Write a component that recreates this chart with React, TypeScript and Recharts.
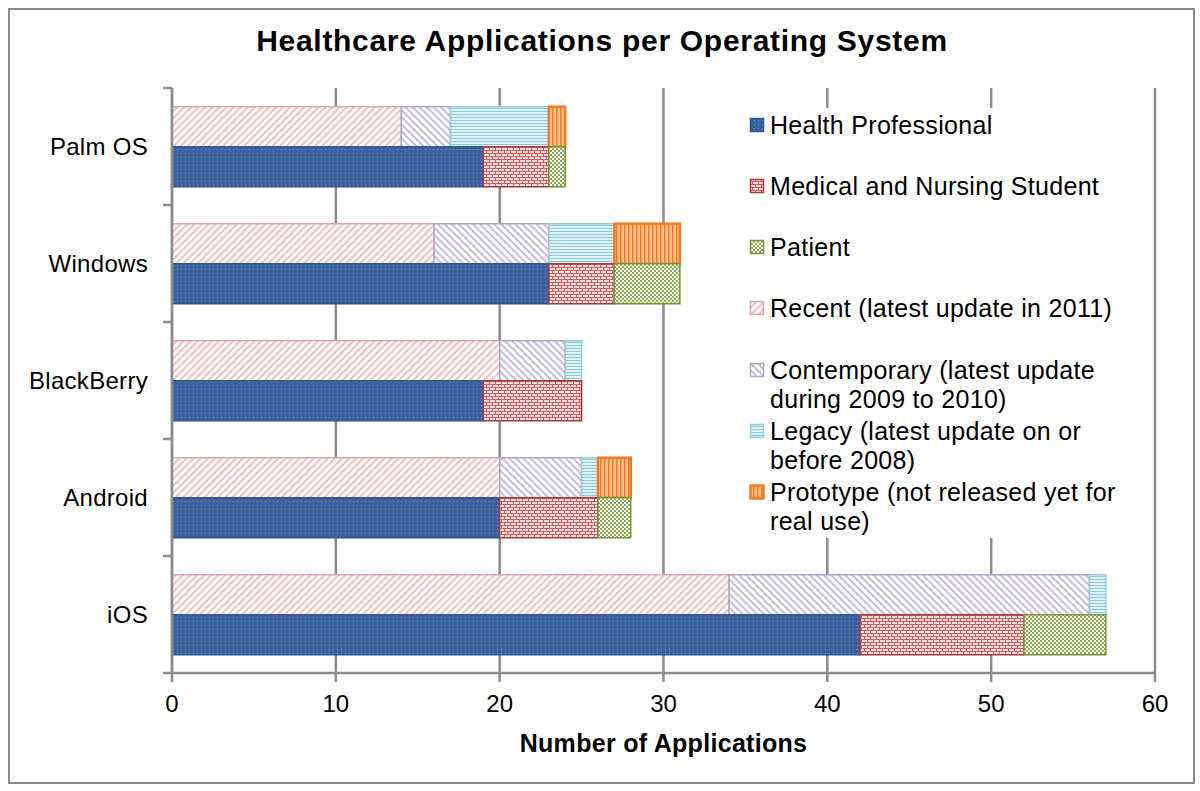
import React from 'react';
import { BarChart, Bar, XAxis, YAxis, CartesianGrid, Legend } from 'recharts';

// ---- data ----
const categories = ['Palm OS', 'Windows', 'BlackBerry', 'Android', 'iOS'];
const healthProfessional = [19, 23, 19, 20, 42];
const medicalStudent = [4, 4, 6, 6, 10];
const patient = [1, 4, 0, 2, 5];
const recent = [14, 16, 20, 20, 34];
const contemporary = [3, 7, 4, 5, 22];
const legacy = [6, 4, 1, 1, 1];
const prototype = [1, 4, 0, 2, 0];
const xTicks = [0, 10, 20, 30, 40, 50, 60];

const legendLabels = [
  'Health Professional',
  'Medical and Nursing Student',
  'Patient',
  'Recent (latest update in 2011)',
  'Contemporary (latest update during 2009 to 2010)',
  'Legacy (latest update on or before 2008)',
  'Prototype (not released yet for real use)',
];
const legendLines: string[][] = [
  ['Health Professional'],
  ['Medical and Nursing Student'],
  ['Patient'],
  ['Recent (latest update in 2011)'],
  ['Contemporary (latest update', 'during 2009 to 2010)'],
  ['Legacy (latest update on or', 'before 2008)'],
  ['Prototype (not released yet for', 'real use)'],
];

const data = categories.map((name, i) => ({
  name,
  hp: healthProfessional[i],
  mns: medicalStudent[i],
  pat: patient[i],
  rec: recent[i],
  con: contemporary[i],
  leg: legacy[i],
  pro: prototype[i],
}));

// ---- styles ----
const W = 1200;
const H = 791;
const MARGIN = { top: 88, right: 45, bottom: 48, left: 0 };
const X_AXIS_H = 70;
const Y_AXIS_W = 172;
const PLOT_H = H - MARGIN.top - MARGIN.bottom - X_AXIS_H;
const GRID = '#8c8c8c';
const FONT = '"Liberation Sans", Arial, Helvetica, sans-serif';

const legendStyle = [
  { fill: 'url(#pHP)', stroke: '#2E5690', sw: 1.5 },
  { fill: 'url(#pMNS)', stroke: '#A83A3A', sw: 1.5 },
  { fill: 'url(#pPAT)', stroke: '#77933C', sw: 1.5 },
  { fill: 'url(#pREC)', stroke: '#E3A3A3', sw: 1.5 },
  { fill: 'url(#pCON)', stroke: '#B3A2C7', sw: 1.5 },
  { fill: 'url(#pLEG)', stroke: '#93CDDD', sw: 1.5 },
  { fill: 'url(#pPRO)', stroke: '#F47920', sw: 2.5 },
];

const Patterns = () => (
  <svg width={0} height={0} style={{ position: 'absolute' }}>
    <defs>
      <pattern id="pHP" width="4" height="4" patternUnits="userSpaceOnUse">
        <rect width="4" height="4" fill="#3A639E" />
        <rect x="1" y="1" width="1" height="1" fill="#7C9DCB" />
      </pattern>
      <pattern id="pMNS" width="6" height="6" patternUnits="userSpaceOnUse">
        <rect width="6" height="6" fill="#F6DCDC" />
        <path d="M0 0.5H6 M0 3.5H6 M0.5 0V3.5 M3.5 3.5V6" stroke="#C86060" strokeWidth="1" />
      </pattern>
      <pattern id="pPAT" width="4" height="4" patternUnits="userSpaceOnUse">
        <rect width="4" height="4" fill="#ffffff" />
        <rect x="0" y="0" width="2" height="2" fill="#86AC50" />
        <rect x="2" y="2" width="2" height="2" fill="#86AC50" />
      </pattern>
      <pattern id="pREC" width="5" height="5" patternUnits="userSpaceOnUse" patternTransform="rotate(45)">
        <rect width="5" height="5" fill="#ffffff" />
        <line x1="1" y1="0" x2="1" y2="5" stroke="#E69C9C" strokeWidth="1.3" />
      </pattern>
      <pattern id="pCON" width="5" height="5" patternUnits="userSpaceOnUse" patternTransform="rotate(-45)">
        <rect width="5" height="5" fill="#ffffff" />
        <line x1="1" y1="0" x2="1" y2="5" stroke="#A898C8" strokeWidth="1.3" />
      </pattern>
      <pattern id="pLEG" width="4" height="3" patternUnits="userSpaceOnUse">
        <rect width="4" height="3" fill="#E2F3F8" />
        <line x1="0" y1="0.5" x2="4" y2="0.5" stroke="#86C9DC" strokeWidth="1" />
      </pattern>
      <pattern id="pPRO" width="4" height="4" patternUnits="userSpaceOnUse">
        <rect width="4" height="4" fill="#FBC392" />
        <line x1="0.75" y1="0" x2="0.75" y2="4" stroke="#F47C20" strokeWidth="1.5" />
      </pattern>
    </defs>
  </svg>
);

const CategoryTick = (props: any) => {
  const { x, y, payload, index } = props;
  const band = PLOT_H / categories.length;
  const axisX = x + 24;
  return (
    <g>
      <text x={x} y={y} dy="0.355em" textAnchor="end" fontSize={24} fill="#000" style={{ letterSpacing: 0.3 }} fontFamily={FONT}>
        {payload.value}
      </text>
      <line x1={axisX - 9} x2={axisX} y1={y - band / 2} y2={y - band / 2} stroke={GRID} strokeWidth={2.5} />
      {index === categories.length - 1 && (
        <line x1={axisX - 9} x2={axisX} y1={y + band / 2} y2={y + band / 2} stroke={GRID} strokeWidth={2.5} />
      )}
    </g>
  );
};

const LegendContent = () => (
  <div style={{ position: 'relative', width: '100%', height: '100%', background: '#fff', fontFamily: FONT }}>
    {legendLabels.map((label, i) => (
      <div
        key={label}
        style={{
          position: 'absolute',
          left: 0,
          top: 2.5 + i * 61.3,
          display: 'flex',
          alignItems: 'flex-start',
        }}
      >
        <svg width={22} height={29} style={{ display: 'block', marginLeft: 4 }}>
          <rect
            x={1.5}
            y={7.5}
            width={13}
            height={13}
            fill={legendStyle[i].fill}
            stroke={legendStyle[i].stroke}
            strokeWidth={legendStyle[i].sw}
          />
        </svg>
        <div style={{ fontSize: 25, lineHeight: '29px', color: '#000', letterSpacing: 0.3, whiteSpace: 'nowrap', marginLeft: -1 }}>
          {legendLines[i].map((ln) => (
            <div key={ln}>{ln}</div>
          ))}
        </div>
      </div>
    ))}
  </div>
);

export default function App() {
  return (
    <div style={{ position: 'absolute', left: 0, top: 0, width: W, height: H, background: '#fff', fontFamily: FONT }}>
      <Patterns />
      <div
        style={{
          position: 'absolute',
          left: 8,
          top: 8,
          width: 1187,
          height: 776,
          border: '2px solid #8a8a8a',
          boxSizing: 'border-box',
        }}
      />
      <div
        style={{
          position: 'absolute',
          left: 0,
          width: W,
          top: 23,
          textAlign: 'center',
          fontSize: 30,
          fontWeight: 'bold',
          letterSpacing: 0.7,
          color: '#000',
          lineHeight: '36px',
          paddingLeft: 2,
        }}
      >
        Healthcare Applications per Operating System
      </div>
      <div style={{ position: 'absolute', left: 0, top: 0 }}>
        <BarChart
          width={W}
          height={H}
          data={data}
          layout="vertical"
          margin={MARGIN}
          barCategoryGap="16%"
          barGap={0}
        >
          <CartesianGrid vertical horizontal={false} stroke={GRID} strokeWidth={2.5} verticalValues={xTicks} />
          <XAxis
            type="number"
            domain={[0, 60]}
            ticks={xTicks}
            interval={0}
            height={X_AXIS_H}
            tickSize={9}
            tickMargin={13}
            stroke={GRID}
            axisLine={{ stroke: GRID, strokeWidth: 2.5 }}
            tickLine={{ stroke: GRID, strokeWidth: 2.5 }}
            tick={{ fill: '#000', fontSize: 24, fontFamily: FONT }}
            label={{
              value: 'Number of Applications',
              position: 'insideBottom',
              offset: -9,
              fill: '#000',
              fontSize: 25,
              fontWeight: 'bold',
              fontFamily: FONT,
              style: { letterSpacing: 0.3 },
            }}
          />
          <YAxis
            type="category"
            dataKey="name"
            width={Y_AXIS_W}
            tickSize={0}
            tickMargin={24}
            tickLine={false}
            axisLine={{ stroke: GRID, strokeWidth: 2.5 }}
            tick={<CategoryTick />}
            interval={0}
          />
          <Legend
            layout="vertical"
            align="center"
            verticalAlign="middle"
            content={() => <LegendContent />}
            wrapperStyle={{ position: 'absolute', left: 745, top: 108, width: 395, height: 430 }}
          />
          <Bar dataKey="rec" stackId="update" fill="url(#pREC)" stroke="#E3A3A3" strokeWidth={1.5} isAnimationActive={false} name={legendLabels[3]} />
          <Bar dataKey="con" stackId="update" fill="url(#pCON)" stroke="#B3A2C7" strokeWidth={1.5} isAnimationActive={false} name={legendLabels[4]} />
          <Bar dataKey="leg" stackId="update" fill="url(#pLEG)" stroke="#93CDDD" strokeWidth={1.5} isAnimationActive={false} name={legendLabels[5]} />
          <Bar dataKey="pro" stackId="update" fill="url(#pPRO)" stroke="#F47920" strokeWidth={2.5} isAnimationActive={false} name={legendLabels[6]} />
          <Bar dataKey="hp" stackId="user" fill="url(#pHP)" stroke="#2E5690" strokeWidth={1.5} isAnimationActive={false} name={legendLabels[0]} />
          <Bar dataKey="mns" stackId="user" fill="url(#pMNS)" stroke="#A83A3A" strokeWidth={1.5} isAnimationActive={false} name={legendLabels[1]} />
          <Bar dataKey="pat" stackId="user" fill="url(#pPAT)" stroke="#77933C" strokeWidth={1.5} isAnimationActive={false} name={legendLabels[2]} />
        </BarChart>
      </div>
    </div>
  );
}
